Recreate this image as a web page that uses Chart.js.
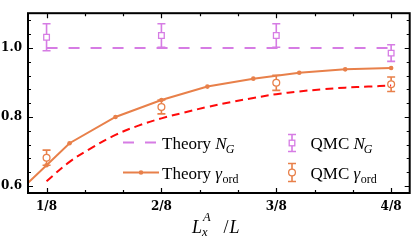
<!DOCTYPE html>
<html>
<head>
<meta charset="utf-8">
<script src="https://cdn.jsdelivr.net/npm/chart.js@4/dist/chart.umd.min.js"></script>
<style>
  html, body { margin: 0; padding: 0; background: #fff; }
  #wrap { width: 415px; height: 243px; }
</style>
</head>
<body>
<div id="wrap"><canvas id="chart" width="415" height="243"></canvas></div>
<script>
// theory curve for the ordered fraction (solid line with dots)
const theoryGammaX = [0.1, 0.125, 0.15, 0.2, 0.25, 0.3, 0.35, 0.4, 0.45, 0.5];
const theoryGammaY = [0.597, 0.660, 0.724, 0.800, 0.849, 0.888, 0.911, 0.928, 0.938, 0.942];

// red dashed curve
const boundX = [0.125, 0.15, 0.175, 0.2, 0.225, 0.25, 0.275, 0.3, 0.325, 0.35, 0.375, 0.4, 0.425, 0.45, 0.475, 0.5];
const boundY = [0.614, 0.670, 0.712, 0.748, 0.775, 0.796, 0.813, 0.829, 0.843, 0.855, 0.866, 0.874, 0.880, 0.885, 0.888, 0.891];

// theory N_G (flat)
const theoryNgX = [0.125, 0.5];
const theoryNgY = [1.0, 1.0];

// QMC points
const qmcX = [0.125, 0.25, 0.375, 0.5];
const qmcNgY = [1.031, 1.036, 1.036, 0.985];
const qmcNgErr = [0.039, 0.034, 0.034, 0.024];
const qmcGammaY = [0.682, 0.829, 0.899, 0.895];
const qmcGammaErr = [0.022, 0.020, 0.022, 0.021];

// ticks
const xMajor = [1 / 8, 2 / 8, 3 / 8, 4 / 8];
const xLabels = ["1/8", "2/8", "3/8", "4/8"];
const xMinorStep = 1 / 24;
const yMajor = [0.6, 0.8, 1.0];
const yLabels = ["0.6", "0.8", "1.0"];
const yMinorStep = 0.04;

const PURPLE = "rgb(214,124,228)";
const ORANGE = "rgb(232,128,74)";
const RED = "rgb(255,10,10)";
const SERIF = "'Liberation Serif', 'DejaVu Serif', serif";

const xTickValues = [];
for (let k = 3; k <= 12; k++) xTickValues.push(k * xMinorStep);
const yTickValues = [];
for (let k = 0; k <= 12; k++) yTickValues.push(+(0.6 + k * yMinorStep).toFixed(2));

function pts(xs, ys) {
  return xs.map((x, i) => ({ x: x, y: ys[i] }));
}
function labelFor(v, majors, labels) {
  const i = majors.findIndex((m) => Math.abs(m - v) < 1e-6);
  return i >= 0 ? labels[i] : "";
}

// error bars under the QMC markers
const errorBars = {
  id: "errorBars",
  beforeDatasetDraw(chart, args) {
    const ds = chart.data.datasets[args.index];
    if (!ds.errors) return;
    const ctx = chart.ctx;
    const xs = chart.scales.x, ys = chart.scales.y;
    ctx.save();
    ctx.strokeStyle = ds.borderColor;
    ctx.lineWidth = 1.6;
    ds.data.forEach((p, i) => {
      const px = xs.getPixelForValue(p.x);
      const top = ys.getPixelForValue(p.y + ds.errors[i]);
      const bot = ys.getPixelForValue(p.y - ds.errors[i]);
      ctx.beginPath();
      ctx.moveTo(px, top); ctx.lineTo(px, bot);
      ctx.moveTo(px - 4, top); ctx.lineTo(px + 4, top);
      ctx.moveTo(px - 4, bot); ctx.lineTo(px + 4, bot);
      ctx.stroke();
    });
    ctx.restore();
  },
};

// frame with inward ticks on all four sides
const frame = {
  id: "frame",
  afterDatasetsDraw(chart) {
    const { ctx, chartArea: a } = chart;
    const xs = chart.scales.x, ys = chart.scales.y;
    ctx.save();
    ctx.strokeStyle = "#000";
    ctx.lineWidth = 1.2;
    ctx.beginPath();
    xTickValues.forEach((v) => {
      const px = Math.round(xs.getPixelForValue(v)) + 0.5;
      const len = labelFor(v, xMajor, xLabels) ? 5 : 3;
      ctx.moveTo(px, a.bottom); ctx.lineTo(px, a.bottom - len);
      ctx.moveTo(px, a.top); ctx.lineTo(px, a.top + len);
    });
    yTickValues.forEach((v) => {
      const py = Math.round(ys.getPixelForValue(v)) + 0.5;
      const len = labelFor(v, yMajor, yLabels) ? 5 : 3;
      ctx.moveTo(a.left, py); ctx.lineTo(a.left + len, py);
      ctx.moveTo(a.right, py); ctx.lineTo(a.right - len, py);
    });
    ctx.stroke();
    ctx.lineWidth = 2;
    ctx.strokeRect(a.left, a.top, a.right - a.left, a.bottom - a.top);
    ctx.restore();
  },
};

function mathText(ctx, x, y, parts) {
  parts.forEach((p) => {
    ctx.font = (p.italic ? "italic " : "") + p.size + "px " + SERIF;
    ctx.fillText(p.t, x + (p.dx || 0), y + (p.dy || 0));
    if (!p.noAdvance) x += ctx.measureText(p.t).width + (p.dx || 0);
  });
  return x;
}

// legend and axis title
const annotations = {
  id: "annotations",
  afterDraw(chart) {
    const ctx = chart.ctx;
    ctx.save();
    ctx.fillStyle = "#000";
    ctx.textBaseline = "alphabetic";
    ctx.textAlign = "left";

    // x title
    mathText(ctx, 192, 233, [
      { t: "L", size: 18, italic: true },
      { t: "A", size: 12.5, italic: true, dy: -12, dx: 1, noAdvance: true },
      { t: "x", size: 12.5, italic: true, dy: 3 },
      { t: "  /", size: 18, dx: 7 },
      { t: "L", size: 18, italic: true, dx: 1 },
    ]);

    const row1 = 149, row2 = 178.5;
    // Theory N_G sample
    ctx.strokeStyle = PURPLE;
    ctx.lineWidth = 2;
    ctx.setLineDash([11, 11]);
    ctx.beginPath();
    ctx.moveTo(123, 142.5); ctx.lineTo(157, 142.5);
    ctx.stroke();
    ctx.setLineDash([]);
    // Theory gamma sample
    ctx.strokeStyle = ORANGE;
    ctx.beginPath();
    ctx.moveTo(123, 172.5); ctx.lineTo(159, 172.5);
    ctx.stroke();
    ctx.fillStyle = ORANGE;
    ctx.beginPath(); ctx.arc(141, 172.5, 2.3, 0, Math.PI * 2); ctx.fill();

    // QMC samples
    const drawErr = (x, y, color, half) => {
      ctx.strokeStyle = color;
      ctx.lineWidth = 1.6;
      ctx.beginPath();
      ctx.moveTo(x, y - half); ctx.lineTo(x, y + half);
      ctx.moveTo(x - 4, y - half); ctx.lineTo(x + 4, y - half);
      ctx.moveTo(x - 4, y + half); ctx.lineTo(x + 4, y + half);
      ctx.stroke();
    };
    drawErr(292, 143, PURPLE, 8.5);
    ctx.fillStyle = "#fff";
    ctx.lineWidth = 1.3;
    ctx.fillRect(289.2, 140.2, 5.6, 5.6);
    ctx.strokeRect(289.2, 140.2, 5.6, 5.6);
    drawErr(292, 172.5, ORANGE, 9);
    ctx.beginPath(); ctx.arc(292, 172.5, 3.4, 0, Math.PI * 2);
    ctx.fillStyle = "#fff"; ctx.fill(); ctx.lineWidth = 1.3; ctx.stroke();

    ctx.fillStyle = "#000";
    const ng = [
      { t: "N", size: 17, italic: true },
      { t: "G", size: 12, italic: true, dy: 4, dx: -1 },
    ];
    const gam = [
      { t: "γ", size: 17, italic: true },
      { t: "ord", size: 12, dy: 4, dx: 0.5 },
    ];
    mathText(ctx, 162, row1, [{ t: "Theory ", size: 17 }].concat(ng));
    mathText(ctx, 162, row2, [{ t: "Theory ", size: 17 }].concat(gam));
    mathText(ctx, 310.5, row1, [{ t: "QMC ", size: 17 }].concat(ng));
    mathText(ctx, 310.5, row2, [{ t: "QMC ", size: 17 }].concat(gam));
    ctx.restore();
  },
};

new Chart(document.getElementById("chart"), {
  type: "line",
  data: {
    datasets: [
      {
        label: "Theory N_G",
        data: pts(theoryNgX, theoryNgY),
        borderColor: PURPLE,
        borderWidth: 2,
        borderDash: [11, 11],
        pointRadius: 0,
      },
      {
        label: "bound",
        data: pts(boundX, boundY),
        borderColor: RED,
        borderWidth: 2,
        borderDash: [8, 5],
        pointRadius: 0,
        tension: 0.4,
      },
      {
        label: "Theory gamma",
        data: pts(theoryGammaX, theoryGammaY),
        borderColor: ORANGE,
        backgroundColor: ORANGE,
        borderWidth: 2,
        pointRadius: 2.3,
        pointBorderWidth: 0,
      },
      {
        label: "QMC N_G",
        data: pts(qmcX, qmcNgY),
        errors: qmcNgErr,
        showLine: false,
        pointStyle: "rect",
        pointRadius: 4,
        pointBorderWidth: 1.3,
        borderColor: PURPLE,
        backgroundColor: "#fff",
      },
      {
        label: "QMC gamma",
        data: pts(qmcX, qmcGammaY),
        errors: qmcGammaErr,
        showLine: false,
        pointRadius: 3.4,
        pointBorderWidth: 1.3,
        borderColor: ORANGE,
        backgroundColor: "#fff",
      },
    ],
  },
  options: {
    responsive: false,
    animation: false,
    layout: { padding: { top: 5, right: 3, left: 0, bottom: 0 } },
    plugins: { legend: { display: false }, tooltip: { enabled: false } },
    scales: {
      x: {
        type: "linear",
        min: 0.1048,
        max: 0.5202,
        grid: { display: false, drawTicks: false },
        border: { display: false },
        afterBuildTicks: (s) => { s.ticks = xTickValues.map((v) => ({ value: v })); },
        afterFit: (s) => { s.height = 50; },
        ticks: {
          autoSkip: false,
          maxRotation: 0,
          padding: 7,
          color: "#000",
          font: { family: "'DejaVu Serif'", weight: "bold", size: 12 },
          callback: (v) => labelFor(v, xMajor, xLabels),
        },
      },
      y: {
        min: 0.5798,
        max: 1.1006,
        grid: { display: false, drawTicks: false },
        border: { display: false },
        afterBuildTicks: (s) => { s.ticks = yTickValues.map((v) => ({ value: v })); },
        afterFit: (s) => { s.width = 28; },
        ticks: {
          autoSkip: false,
          padding: 6,
          color: "#000",
          font: { family: "'DejaVu Serif'", weight: "bold", size: 12 },
          callback: (v) => labelFor(v, yMajor, yLabels),
        },
      },
    },
  },
  plugins: [errorBars, frame, annotations],
});
</script>
</body>
</html>
